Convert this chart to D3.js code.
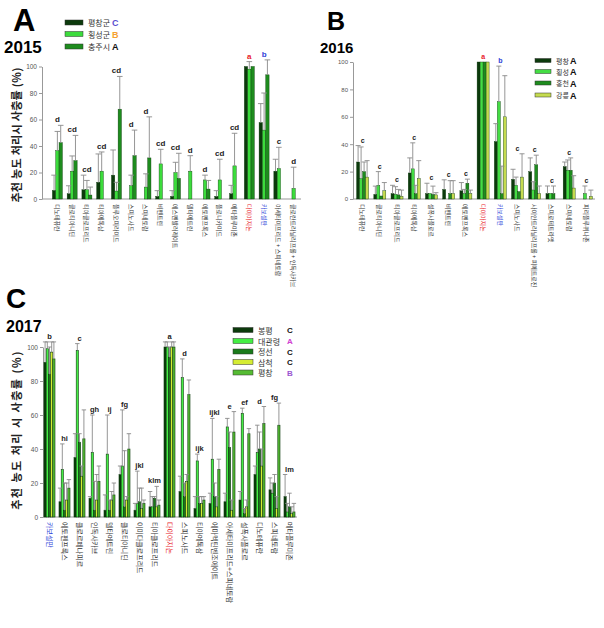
<!DOCTYPE html>
<html><head><meta charset="utf-8">
<script src="https://cdn.jsdelivr.net/npm/d3@7/dist/d3.min.js"></script>
<style>
body{margin:0;background:#fff;}
svg{display:block;font-family:"Liberation Sans",Arial,sans-serif;}
.kr{font-family:"Noto Sans CJK KR","Noto Sans",sans-serif;}
</style></head><body>
<svg id="c" width="604" height="628"></svg>
<script>
// ---------------- Panel A (2015) ----------------
const A_categories = ["디노테퓨란","클로티아니딘","티아클로프리드","티아메톡삼","플루오피라미드","스피노사드","스피네토람","비펜트린","에스펜발러레이트","델타메트린","에토펜프록스","플로니카미드","메타플루미존","다이아지논","카보설판","아세타미프리드 + 스피네토람","클로란트라닐리프롤 + 인독사카브"];
const A_series = ["평창군","횡성군","충주시"];
const A_seriesLetters = ["C","B","A"];
const A_pyeongchang = [6.5,4,7,12.6,18,0,0,2,2,0,0,2,4,100,57.7,21,0];
const A_hoengseong  = [36.5,21,7,21,6,10,9,26.5,20,21,14.4,14.4,25,98,52,23,8];
const A_chungju     = [42.5,29,3,0,67.8,32.7,31,0,15.6,0,7.5,0,0,100,93.7,0,0];
const A_pyeongchang_sd = [11.5,6,11,21.4,19,0,0,4.3,4.3,0,0,4.3,6.3,0,14.3,9,0];
const A_hoengseong_sd  = [14.5,11.5,7,14.5,6.6,8,10,11,7.7,11.7,3.6,15.6,24.6,5.7,28,16,16];
const A_chungju_sd     = [13.1,19,6,0,24.7,19.3,31,0,18.9,0,6.5,0,0,0,11.3,0,0];
const A_letters = ["d","cd","cd","cd","cd","d","d","cd","cd","d","d","cd","cd","a","b","c","d"];

// ---------------- Panel B (2016) ----------------
const B_categories = ["디노테퓨란","클로티아니딘","티아클로프리드","티아메톡삼","설폭사플로르","비펜트린","에토펜프록스","다이아지논","카보설판","스피노사드","사이안트라닐리프롤 + 피메트로진","스피로테트라맷","스피네토람","피리플루퀴나존"];
const B_series = ["평창","횡성","홍천","강릉"];
const B_seriesLetters = ["A","A","A","A"];
const B_pyeongchang = [27,3.4,4,19,4,7,6,100,42,14.4,20,4,23.7,0];
const B_hoengseong  = [15,10,3.4,22,4,0,4,100,71,10,6.6,4,21,4];
const B_hongcheon   = [20,2.2,3,4,3.4,4,11.5,100,4,5.4,25,4,21,0];
const B_gangneung   = [16,6,2,15,3,4,4,100,60,16,4,0,8,2];
const B_pyeongchang_sd = [12,6,6,11,7.5,7,6,0,13,7.3,10,5.5,3.3,0];
const B_hoengseong_sd  = [23,10,5.6,19,0,0,3,0,26,6,6,0,7.5,5.5];
const B_hongcheon_sd   = [7,0,4,6,6,9.4,3,0,20,0,7,5.5,9,0];
const B_gangneung_sd   = [12,6,4.5,13,1.6,9.4,2.5,0,30,17,5.5,0,9,4.5];
const B_letters = ["c","c","c","c","c","c","c","a","b","c","c","c","c","c"];

// ---------------- Panel C (2017) ----------------
const C_categories = ["카보설판","에토펜프록스","클로르페나피르","인독사카브","델타메트린","클로티아니딘","이미다클로프리드","티아클로프리드","다이아지논","스피노사드","티아메톡삼","에마멕틴벤조에이트","아세타미프리드+스피네토람","설폭사플로르","디노테퓨란","스피네토람","메타플루미존"];
const C_series = ["봉평","대관령","정선","삼척","평창"];
const C_seriesLetters = ["C","A","C","C","B"];
const C_bongpyeong = [91,9,35,11,4,25,4,6,100,15,5,8,9,10,25,16,12];
const C_daegwallyeong = [99,28,98,38,37,30,8,6,100,82,33,34,53,61,38,14,3];
const C_jeongseon = [84,4,44,4,4,6,9,11,94,12,8,12,41,2,40,20,6];
const C_samcheok = [97,10,24,10,10,10,5,6,100,21,8,6,4,6,30,5,2];
const C_pyeongchang = [93,17,46,21,13,40,8,7,100,72,10,28,50,49,55,54,3];
const C_bongpyeong_sd = [12,8,14,1,9,5,4,9,3,9,7,6,5,5,5,7,13];
const C_daegwallyeong_sd = [4,15,4,22,23,33,19,6,3,11,4,24,5,3,16,6,5];
const C_jeongseon_sd = [16,16,5,17,6,33,8,1,6,8,4,8,9,3,10,5,8];
const C_samcheok_sd = [6,10,6,15,5,2,12,12,3,4,4,6,6,4,10,7,4];
const C_pyeongchang_sd = [10,5,17,9,7,9,2,3,3,8.6,2,6,12,3,10,13,5];
const C_letters = ["b","hi","c","gh","ij","fg","jkl","klm","a","d","ijk","ijkl","e","ef","d","fg","lm"];

const yTicks = [0,20,40,60,80,100];

const svg = d3.select("#c");

function panel(cfg){
  const g = svg.append("g");
  const y = d3.scaleLinear().domain([0,100]).range([cfg.y0, cfg.y100]);
  const x = d3.scaleBand().domain(cfg.categories).range(cfg.xr);
  const xi = d3.scaleBand().domain(cfg.series).range([x.step()/2 - cfg.gw/2, x.step()/2 + cfg.gw/2]);
  const ax = g.append("g").attr("transform",`translate(${cfg.ax},0)`)
    .call(d3.axisLeft(y).tickValues(yTicks).tickSize(3).tickPadding(2).tickSizeOuter(0));
  ax.select(".domain").attr("stroke","#999");
  ax.selectAll(".tick line").attr("stroke","#999");
  ax.selectAll(".tick text").attr("fill","#555").attr("font-size",cfg.tickFont).attr("font-family","Liberation Sans, Arial");
  g.append("line").attr("x1",cfg.ax).attr("x2",cfg.xr[1]).attr("y1",cfg.y0).attr("y2",cfg.y0).attr("stroke","#999");
  const data = [];
  cfg.categories.forEach((c,i)=>{
    cfg.series.forEach((s,j)=>{
      data.push({c, s, v: cfg.values[j][i], sd: cfg.sds[j][i], color: cfg.colors[j]});
    });
  });
  const bw = xi.bandwidth();
  g.selectAll("rect.bar").data(data.filter(d=>d.v>0)).enter().append("rect")
    .attr("x", d=> x(d.c)+xi(d.s)).attr("width", bw)
    .attr("y", d=> y(d.v)).attr("height", d=> y(0)-y(d.v))
    .attr("fill", d=>d.color).attr("stroke", cfg.barStroke).attr("stroke-width",cfg.bsw);
  const eb = data.filter(d=>d.sd>0);
  g.selectAll("line.eb").data(eb).enter().append("line")
    .attr("x1", d=> x(d.c)+xi(d.s)+bw/2).attr("x2", d=> x(d.c)+xi(d.s)+bw/2)
    .attr("y1", d=> y(d.v)).attr("y2", d=> y(d.v+d.sd))
    .attr("stroke","#8a8a8a").attr("stroke-width",0.9);
  g.selectAll("line.cap").data(eb).enter().append("line")
    .attr("x1", d=> x(d.c)+xi(d.s)+bw/2-cfg.cap).attr("x2", d=> x(d.c)+xi(d.s)+bw/2+cfg.cap)
    .attr("y1", d=> y(d.v+d.sd)).attr("y2", d=> y(d.v+d.sd))
    .attr("stroke","#8a8a8a").attr("stroke-width",0.9);
  cfg.categories.forEach((c,i)=>{
    let m = 0;
    cfg.series.forEach((s,j)=>{ m = Math.max(m, cfg.values[j][i]+cfg.sds[j][i]); });
    g.append("text").attr("x", x(c)+x.step()/2).attr("y", y(m)-3)
      .attr("text-anchor","middle").attr("font-size",cfg.letterFont).attr("font-weight","bold")
      .attr("fill", cfg.letterColor(c)).text(cfg.letters[i]);
  });
  cfg.categories.forEach((c)=>{
    g.append("text").attr("class","kr")
      .attr("transform",`translate(${x(c)+x.step()/2},${cfg.y0+5}) rotate(90)`)
      .attr("dominant-baseline","central").attr("font-size",cfg.labelFont)
      .attr("fill", c==="다이아지논" ? "#e8202a" : (c==="카보설판" ? "#2f3fd8" : "#333")).text(c);
  });
  cfg.series.forEach((s,j)=>{
    const ly = cfg.legend.y[j];
    g.append("rect").attr("x",cfg.legend.x).attr("y",ly-cfg.legend.h/2).attr("width",cfg.legend.w).attr("height",cfg.legend.h)
      .attr("fill",cfg.colors[j]).attr("stroke","#333").attr("stroke-width",0.5);
    g.append("text").attr("class","kr").attr("x",cfg.legend.x+cfg.legend.w+5).attr("y",ly).attr("dominant-baseline","central")
      .attr("font-size",cfg.legend.font).attr("fill","#333").text(s);
    g.append("text").attr("x",cfg.legend.lx).attr("y",ly+0.5).attr("dominant-baseline","central")
      .attr("font-size",cfg.legend.lfont).attr("font-weight","bold").attr("fill",cfg.legend.lcolors[j]).text(cfg.seriesLetters[j]);
  });
  g.append("text").attr("x",cfg.title.x).attr("y",cfg.title.y).attr("font-size",cfg.title.size).attr("font-weight","bold").attr("fill","#000").text(cfg.title.t);
  g.append("text").attr("x",cfg.year.x).attr("y",cfg.year.y).attr("font-size",cfg.year.size).attr("font-weight","bold").attr("fill","#000").text(cfg.year.t);
  if(cfg.ylab){
    g.append("text").attr("class","kr").attr("transform",`translate(${cfg.ylab.x},${cfg.ylab.y}) rotate(-90)`)
      .attr("text-anchor","middle").attr("dominant-baseline","central").attr("font-size",cfg.ylab.size).attr("font-weight","bold")
      .attr("letter-spacing",cfg.ylab.ls).attr("fill","#222").text(cfg.ylab.t);
  }
}

panel({
  categories:A_categories, series:A_series, seriesLetters:A_seriesLetters,
  values:[A_pyeongchang,A_hoengseong,A_chungju], sds:[A_pyeongchang_sd,A_hoengseong_sd,A_chungju_sd],
  colors:["#0c3a0c","#3cdc3c","#1e8c1e"], letters:A_letters,
  y0:199, y100:66.5, xr:[50,301], ax:42, gw:10, cap:2.8, barStroke:"#0c3a0c", bsw:0.4,
  tickFont:"6.5px", letterFont:"8px", labelFont:"6px",
  letterColor:c=> c==="다이아지논" ? "#e8202a" : (c==="카보설판" ? "#2f3fd8" : "#222"),
  legend:{x:65,y:[22.5,34,46.5],w:18,h:5,font:"8px",lx:112,lfont:"9px",lcolors:["#5a4fcf","#f5a030","#111"]},
  title:{x:13,y:31,size:"31px",t:"A"}, year:{x:4,y:53,size:"17px",t:"2015"},
  ylab:{x:16,y:135,size:"11px",ls:"0.3px",t:"추천 농도 처리시 사충률 (%)"}
});

panel({
  categories:B_categories, series:B_series, seriesLetters:B_seriesLetters,
  values:[B_pyeongchang,B_hoengseong,B_hongcheon,B_gangneung], sds:[B_pyeongchang_sd,B_hoengseong_sd,B_hongcheon_sd,B_gangneung_sd],
  colors:["#0c3a0c","#44dd44","#1e8c1e","#c5db4f"], letters:B_letters,
  y0:199, y100:62, xr:[354,595], ax:353, gw:12, cap:2.5, barStroke:"#0c3a0c", bsw:0.4,
  tickFont:"6px", letterFont:"7px", labelFont:"6px",
  letterColor:c=> c==="다이아지논" ? "#e8202a" : (c==="카보설판" ? "#2f3fd8" : "#222"),
  legend:{x:535,y:[60.5,71.5,83,95],w:16,h:4,font:"7px",lx:570,lfont:"9px",lcolors:["#111","#111","#111","#111"]},
  title:{x:327,y:30,size:"25px",t:"B"}, year:{x:320,y:53,size:"15px",t:"2016"},
  ylab:null
});

panel({
  categories:C_categories, series:C_series, seriesLetters:C_seriesLetters,
  values:[C_bongpyeong,C_daegwallyeong,C_jeongseon,C_samcheok,C_pyeongchang],
  sds:[C_bongpyeong_sd,C_daegwallyeong_sd,C_jeongseon_sd,C_samcheok_sd,C_pyeongchang_sd],
  colors:["#0c3a0c","#44ee44","#1a7a1a","#d5ec33","#55bb33"], letters:C_letters,
  y0:517, y100:347, xr:[42,297], ax:43, gw:11, cap:2.2, barStroke:"#0c3a0c", bsw:0.6,
  tickFont:"6.5px", letterFont:"7.5px", labelFont:"7px",
  letterColor:c=>"#222",
  legend:{x:233,y:[330,341,351.5,362,372.5],w:20,h:5,font:"8px",lx:287,lfont:"8px",lcolors:["#111","#d040d0","#111","#111","#9a55d0"]},
  title:{x:6,y:308,size:"28px",t:"C"}, year:{x:6,y:332,size:"16px",t:"2017"},
  ylab:{x:16,y:430,size:"11px",ls:"1.5px",t:"추천 농도 처리 시 사충률 (%)"}
});
</script></body></html>
